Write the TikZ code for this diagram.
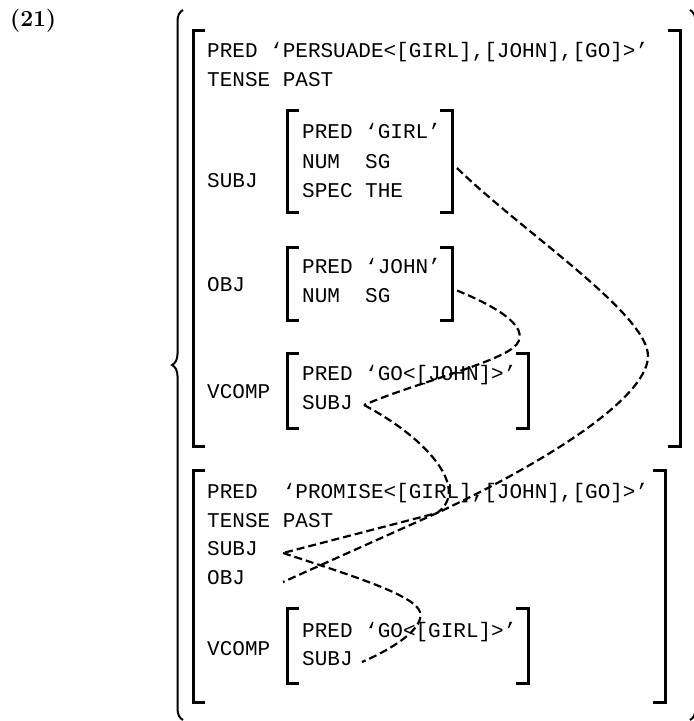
\documentclass[tikz,border=0pt]{standalone}
\usepackage{fontspec}
\setmonofont{Liberation Mono}
\usepackage{tikz}
\usetikzlibrary{decorations.pathreplacing}

% square brackets round an f-structure, plus a named point at its right side
\newcommand{\avmbox}[5]{%
  \draw[brack] (#2+12,#3) -- (#2,#3) -- (#2,#5) -- (#2+12,#5);
  \draw[brack] (#4-12,#3) -- (#4,#3) -- (#4,#5) -- (#4-12,#5);
  \coordinate (#1) at (#4+5,{(#3+#5)/2+7});
}

\begin{document}
\begin{tikzpicture}[x=1pt, y=-1pt,
    brack/.style={line width=3pt},
    fline/.style={anchor=base west, inner sep=0pt, font=\ttfamily\fontsize{21}{21}\selectfont},
    link/.style={line width=2.2pt, dash pattern=on 8pt off 4pt}]
\useasboundingbox (0,0) rectangle (694,721);

    % Example number
    \node[anchor=base west, inner sep=0pt, font=\bfseries\fontsize{23}{23}\selectfont] (exnum) at (10,26) {(21)};

    % Braces round the pair of f-structures
    \draw[line width=2pt, decorate, decoration={brace, amplitude=11pt}] (183,720) -- (183,10);
    \draw[line width=2pt, decorate, decoration={brace, amplitude=11pt}] (690,10) -- (690,720);

    % Upper f-structure (PERSUADE)
    \avmbox{persuade}{193}{30}{680}{446}
    \node[fline] (predA) at (207,57) {PRED ‘PERSUADE<[GIRL],[JOHN],[GO]>’};
    \node[fline] (tenseA) at (207,86) {TENSE PAST};
    \node[fline] (subjA) at (207,187) {SUBJ};
    \avmbox{girl}{287}{110}{452}{212}
    \node[fline] (girlpred) at (302,138) {PRED ‘GIRL’};
    \node[fline] (girlnum) at (302,168) {NUM~~SG};
    \node[fline] (girlspec) at (302,197) {SPEC THE};
    \node[fline] (objA) at (207,291) {OBJ};
    \avmbox{john}{287}{247}{452}{320}
    \node[fline] (johnpred) at (302,273) {PRED ‘JOHN’};
    \node[fline] (johnnum) at (302,302) {NUM~~SG};
    \node[fline] (vcompA) at (207,398) {VCOMP};
    \avmbox{goA}{287}{353}{528}{428}
    \node[fline] (gopredA) at (302,380) {PRED ‘GO<[JOHN]>’};
    \node[fline] (vsubjA) at (302,409) {SUBJ};

    % Lower f-structure (PROMISE)
    \avmbox{promise}{193}{470}{665}{702}
    \node[fline] (predB) at (207,498) {PRED~~‘PROMISE<[GIRL],[JOHN],[GO]>’};
    \node[fline] (tenseB) at (207,527) {TENSE PAST};
    \node[fline] (subjB) at (207,555) {SUBJ};
    \node[fline] (objB) at (207,584) {OBJ};
    \node[fline] (vcompB) at (207,655) {VCOMP};
    \avmbox{goB}{287}{608}{528}{683}
    \node[fline] (gopredB) at (302,637) {PRED ‘GO<[GIRL]>’};
    \node[fline] (vsubjB) at (302,665) {SUBJ};

    % Value slots the links end in
    \coordinate (vsubjA-v) at (364,405);
    \coordinate (subjB-v) at (283,553);
    \coordinate (objB-v) at (283,582);
    \coordinate (vsubjB-v) at (362,662);

    % Shared values
    \draw[link] (girl) .. controls (520,230) and (650,315) .. (648,357)
        .. controls (646,400) and (540,465) .. (437,513) -- (objB-v);
    \draw[link] (john) .. controls (500,308) and (535,330) .. (513,348)
        .. controls (490,365) and (410,385) .. (vsubjA-v);
    \draw[link] (vsubjA-v) .. controls (430,440) and (470,490) .. (437,513) -- (subjB-v);
    \draw[link] (subjB-v) .. controls (350,575) and (415,595) .. (420,612)
        .. controls (425,629) and (390,650) .. (vsubjB-v);
\end{tikzpicture}
\end{document}
